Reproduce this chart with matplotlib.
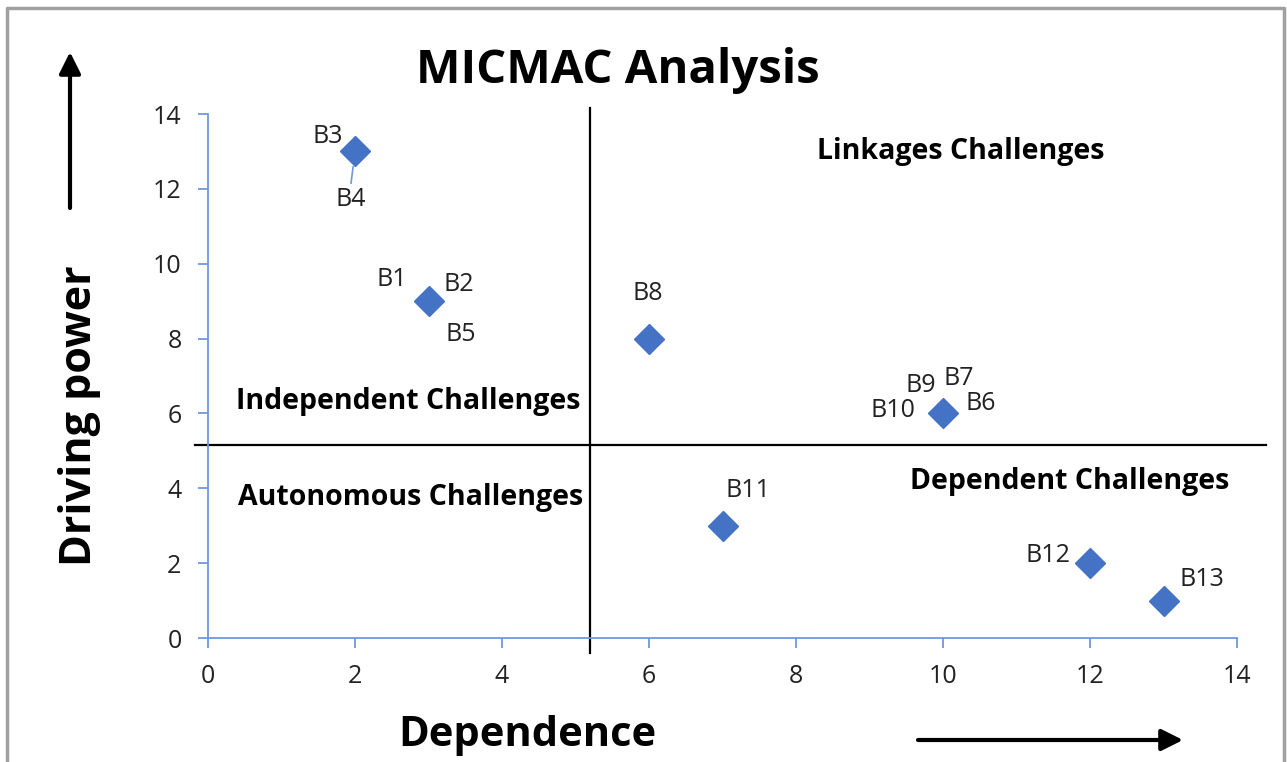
import matplotlib
matplotlib.use('Agg')
import matplotlib.pyplot as plt
from matplotlib.patches import FancyArrowPatch

plt.rcParams['font.family'] = ['Open Sans', 'DejaVu Sans']

# data
dependence = [2, 3, 6, 10, 7, 12, 13]
driving = [13, 9, 8, 6, 3, 2, 1]
# labels sitting around each point: (point index, name, dx px, dy px)
point_labels = [
    (0, 'B3', -27, 15), (0, 'B4', -4, -48),
    (1, 'B1', -37, 22), (1, 'B2', 30, 17), (1, 'B5', 32, -33),
    (2, 'B8', -1, 45),
    (3, 'B9', -22, 28), (3, 'B7', 16, 35), (3, 'B10', -50, 3), (3, 'B6', 38, 10),
    (4, 'B11', 25, 35),
    (5, 'B12', -42, 8),
    (6, 'B13', 38, 21),
]
x_cut = 5.2   # quadrant split on dependence
y_cut = 5.15  # quadrant split on driving power
ticks = [0, 2, 4, 6, 8, 10, 12, 14]

blue = '#4472C4'
axis_blue = '#6f97de'

W, H = 1287, 762
fig = plt.figure(figsize=(W / 100, H / 100), dpi=100)
ax = fig.add_axes([208 / W, 1 - 638 / H, 1029 / W, 524 / H])

ax.plot(dependence, driving, linestyle='none', marker='D', ms=15,
        color=blue, zorder=5, clip_on=False)

for i, name, dx, dy in point_labels:
    ax.annotate(name, (dependence[i], driving[i]), xytext=(dx, dy),
                textcoords='offset pixels', ha='center', va='center',
                fontsize=18, color='#222222')
# short leader line for B4
ax.annotate('', (dependence[0], driving[0]), xytext=(-4, -32),
            textcoords='offset pixels',
            arrowprops=dict(arrowstyle='-', color=axis_blue, lw=1.2,
                            shrinkA=0, shrinkB=11))

ax.set_xlim(0, 14)
ax.set_ylim(0, 14)
ax.set_xticks(ticks)
ax.set_yticks(ticks)
for s in ['top', 'right']:
    ax.spines[s].set_visible(False)
for s in ['left', 'bottom']:
    ax.spines[s].set_color(axis_blue)
    ax.spines[s].set_linewidth(1.3)
ax.tick_params(axis='both', colors=axis_blue, length=7, width=1.3,
               labelsize=18, labelcolor='#222222')
ax.tick_params(axis='x', pad=12)
ax.tick_params(axis='y', pad=12)

# quadrant lines, running a little past the axes
ax.plot([x_cut, x_cut], [-0.029, 1.0115], color='black', lw=1.6,
        transform=ax.get_xaxis_transform(), clip_on=False)
ax.plot([-0.0126, 1.028], [y_cut, y_cut], color='black', lw=1.6,
        transform=ax.get_yaxis_transform(), clip_on=False)

fig.text(961 / W, 1 - 152 / H, 'Linkages Challenges', fontsize=20.5,
         fontweight='bold', ha='center', va='center')
fig.text(408 / W, 1 - 402 / H, 'Independent Challenges', fontsize=20.5,
         fontweight='bold', ha='center', va='center')
fig.text(411 / W, 1 - 497 / H, 'Autonomous Challenges', fontsize=20.5,
         fontweight='bold', ha='center', va='center')
fig.text(1070 / W, 1 - 481 / H, 'Dependent Challenges', fontsize=20.5,
         fontweight='bold', ha='center', va='center')

fig.text(618 / W, 1 - 70 / H, 'MICMAC Analysis', fontsize=34,
         fontweight='bold', ha='center', va='center')
fig.text(527 / W, 1 - 735 / H, 'Dependence', fontsize=30,
         fontweight='bold', ha='center', va='center')
fig.text(80 / W, 1 - 416 / H, 'Driving power', fontsize=31,
         fontweight='bold', ha='center', va='center', rotation=90)

# direction arrows
for tail, tip in [((70, H - 208), (70, H - 52)), ((918, H - 740), (1183, H - 740))]:
    fig.add_artist(FancyArrowPatch(tail, tip, transform=None,
                                   arrowstyle='-|>,head_length=13,head_width=6.5',
                                   color='black', lw=3, mutation_scale=1,
                                   shrinkA=0, shrinkB=0))

# grey frame of the picture
fig.add_artist(plt.Line2D([7 / W, 7 / W, 1284 / W, 1284 / W],
                          [0, 1 - 8 / H, 1 - 8 / H, 0], color='#a0a0a0',
                          lw=2.5, transform=fig.transFigure))

fig.savefig('out.png', dpi=100)
